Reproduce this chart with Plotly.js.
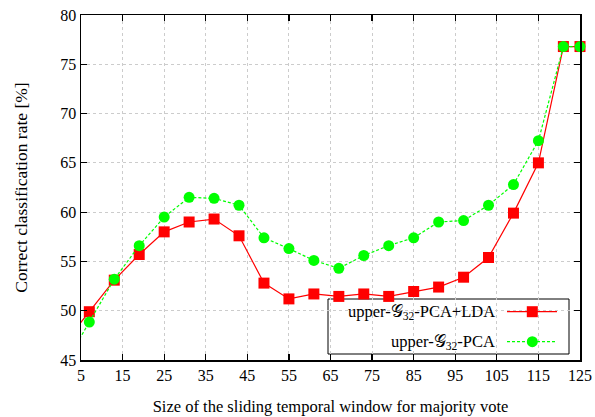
<!DOCTYPE html>
<html><head><meta charset="utf-8">
<script src="https://cdn.plot.ly/plotly-3.0.1.min.js"></script>
<style>body{margin:0;background:#fff}#chart{width:595px;height:417px}</style>
</head><body><div id="chart"></div>
<script>
var windowSizes = [1, 7, 13, 19, 25, 31, 37, 43, 49, 55, 61, 67, 73, 79, 85, 91, 97, 103, 109, 115, 121, 125];
var pcaLda = [46.7, 49.9, 53.1, 55.7, 58.0, 59.0, 59.3, 57.6, 52.8, 51.2, 51.7, 51.45, 51.7, 51.45, 51.95, 52.4, 53.4, 55.4, 59.9, 65.0, 76.8, 76.8];
var pcaOnly = [44.5, 48.85, 53.2, 56.6, 59.5, 61.5, 61.4, 60.7, 57.4, 56.3, 55.1, 54.3, 55.6, 56.6, 57.4, 59.0, 59.15, 60.7, 62.8, 67.25, 76.8, 76.8];
var xTicks = [5, 15, 25, 35, 45, 55, 65, 75, 85, 95, 105, 115, 125];
var yTicks = [45, 50, 55, 60, 65, 70, 75, 80];
var nameLda = 'upper-\u{1D4A2}<sub>32</sub>-PCA+LDA';
var namePca = 'upper-\u{1D4A2}<sub>32</sub>-PCA';

var FONT = 'Liberation Serif, DejaVu Serif, serif';
var red = '#ff0000', green = '#00ff00';
var mx = windowSizes.slice(1), mLda = pcaLda.slice(1), mPca = pcaOnly.slice(1);
var traces = [
  {x: windowSizes, y: pcaLda, mode: 'lines', line: {color: red, width: 1.2}, showlegend: false, hoverinfo: 'skip'},
  {x: mx, y: mLda, mode: 'markers', marker: {symbol: 'square', size: 11, color: red}, cliponaxis: false, showlegend: false},
  {x: windowSizes, y: pcaOnly, mode: 'lines', line: {color: green, width: 1.2, dash: '3px,2px'}, showlegend: false, hoverinfo: 'skip'},
  {x: mx, y: mPca, mode: 'markers', marker: {symbol: 'circle', size: 11, color: green}, cliponaxis: false, showlegend: false}
];
var W = 499, H = 345;
function px(p){return (p-81)/W;}
function py(p){return (360-p)/H;}
var row1 = 311.7, row2 = 341.7, mcx = 532.3;
var shapes = [
  {type:'rect', xref:'paper', yref:'paper', x0:px(328), x1:px(569), y0:py(354), y1:py(299), line:{color:'#000', width:1}, fillcolor:'#fff', layer:'between'},
  {type:'line', xref:'paper', yref:'paper', x0:px(507), x1:px(557), y0:py(row1), y1:py(row1), line:{color:red, width:1.2}},
  {type:'rect', xref:'paper', yref:'paper', x0:px(mcx-5.5), x1:px(mcx+5.5), y0:py(row1+5.5), y1:py(row1-5.5), line:{width:0}, fillcolor:red},
  {type:'line', xref:'paper', yref:'paper', x0:px(507), x1:px(557), y0:py(row2), y1:py(row2), line:{color:green, width:1.2, dash:'3px,2px'}},
  {type:'circle', xref:'paper', yref:'paper', x0:px(mcx-5.5), x1:px(mcx+5.5), y0:py(row2+5.5), y1:py(row2-5.5), line:{width:0}, fillcolor:green}
];
var annotations = [
  {xref:'paper', yref:'paper', x:px(497), y:py(row1), xanchor:'right', yanchor:'middle', text:nameLda, showarrow:false, font:{size:16.5, color:'#000', family:FONT}},
  {xref:'paper', yref:'paper', x:px(497), y:py(row2), xanchor:'right', yanchor:'middle', text:namePca, showarrow:false, font:{size:16.5, color:'#000', family:FONT}}
];
var axisCommon = {showline:true, mirror:'ticks', linecolor:'#000', linewidth:1.5, ticks:'inside', ticklen:6, tickwidth:1.2, tickcolor:'#000',
  showgrid:true, gridcolor:'#cccccc', griddash:'dot', gridwidth:1, zeroline:false, tickfont:{size:16, color:'#000', family:FONT}};
var layout = {
  width:595, height:417, margin:{l:81, r:15, t:15, b:57},
  paper_bgcolor:'#fff', plot_bgcolor:'#fff',
  font:{family:FONT, size:16, color:'#000'},
  xaxis: Object.assign({}, axisCommon, {range:[5,125], tickvals:xTicks, ticktext:xTicks.map(String),
    title:{text:'Size of the sliding temporal window for majority vote', font:{size:16.5, family:FONT}, standoff:17}}),
  yaxis: Object.assign({}, axisCommon, {range:[45,80], tickvals:yTicks, ticktext:yTicks.map(String),
    title:{text:'Correct classification rate [%]', font:{size:17.5, family:FONT}, standoff:28}}),
  shapes: shapes, annotations: annotations, showlegend:false
};
Plotly.newPlot('chart', traces, layout, {displayModeBar:false, staticPlot:true});
</script></body></html>
